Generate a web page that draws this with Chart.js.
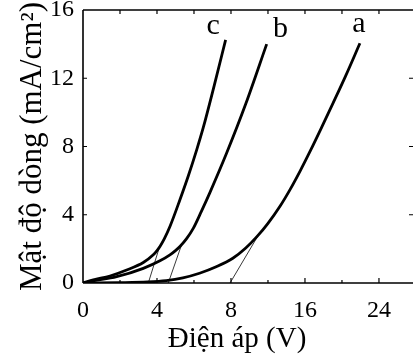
<!DOCTYPE html>
<html>
<head>
<meta charset="utf-8">
<script src="https://cdn.jsdelivr.net/npm/chart.js@4/dist/chart.umd.min.js"></script>
<style>
html,body{margin:0;padding:0;background:#fff;overflow:hidden;}
#wrap{width:413px;height:358px;position:relative;}
</style>
</head>
<body>
<div id="wrap"><canvas id="c" width="413" height="358"></canvas></div>
<script>
// ---- data ----
const aVolt = [0, 2, 3.5, 4.5, 5.4, 6.3, 7.2, 8.1, 8.8, 9.39, 10.0, 10.65, 11.2, 11.75, 12.3, 12.9, 13.53, 14.2, 14.97];
const aCurr = [0, 0.02, 0.06, 0.14, 0.3, 0.57, 0.95, 1.45, 2.05, 2.7, 3.5, 4.5, 5.49, 6.59, 7.77, 9.12, 10.57, 12.14, 14.05];
const bVolt = [0, 0.56, 1.82, 3.26, 4.16, 4.7, 5.0, 5.24, 5.6, 5.96, 6.4, 6.86, 7.76, 8.8, 9.93];
const bCurr = [0, 0.12, 0.37, 0.86, 1.3, 1.65, 1.9, 2.14, 2.6, 3.2, 4.2, 5.3, 7.6, 10.5, 14.0];
const cVolt = [0, 0.56, 1.46, 2.36, 3.26, 3.8, 4.0, 4.16, 4.4, 4.7, 5.24, 5.7, 6.15, 6.5, 7.1, 7.71];
const cCurr = [0, 0.18, 0.41, 0.76, 1.2, 1.65, 1.9, 2.14, 2.6, 3.31, 4.88, 6.3, 7.82, 9.1, 11.6, 14.25];
// thin tangent (threshold) lines
const tanAVolt = [7.95, 9.5];
const tanACurr = [0, 2.84];
const tanBVolt = [4.61, 5.33];
const tanBCurr = [0, 2.24];
const tanCVolt = [3.53, 4.12];
const tanCCurr = [0, 2.06];
// tick labels as printed on the figure
const xTickValues = [0, 4, 8, 12, 16];
const xTickLabels = ['0', '4', '8', '16', '24'];
const yTickValues = [0, 4, 8, 12, 16];
// curve names and where they sit (data units)
const curveNames = ['a', 'b', 'c'];
const nameVolt = [14.92, 10.68, 7.03];
const nameCurr = [14.7, 14.41, 14.59];

const xTitle = 'Điện áp (V)';
const yTitle = 'Mật độ dòng (mA/cm²)';

function pts(xs, ys){ return xs.map((v,i)=>({x:v, y:ys[i]})); }

const SERIF = "'Liberation Serif', 'DejaVu Serif', serif";

const framePlugin = {
  id: 'frame',
  afterDatasetsDraw(chart){
    const {ctx, chartArea, scales} = chart;
    const {left, right, top, bottom} = chartArea;
    const xs = scales.x, ys = scales.y;
    ctx.save();
    ctx.strokeStyle = '#000';
    ctx.lineWidth = 1.6;
    ctx.beginPath();
    ctx.moveTo(left, top); ctx.lineTo(right + 2, top);
    ctx.moveTo(left, top); ctx.lineTo(left, bottom);
    ctx.moveTo(left, bottom); ctx.lineTo(right + 2, bottom);
    ctx.stroke();
    ctx.lineWidth = 1.2;
    ctx.beginPath();
    for (let v = 2; v <= xs.max; v += 2){
      const px = xs.getPixelForValue(v);
      const len = xTickValues.includes(v) ? 5 : 3;
      ctx.moveTo(px, top); ctx.lineTo(px, top + 4);
      ctx.moveTo(px, bottom); ctx.lineTo(px, bottom - len);
    }
    yTickValues.forEach(v => {
      if (v === 0 || v === ys.max) return;
      const py = ys.getPixelForValue(v);
      ctx.moveTo(left, py); ctx.lineTo(left + 4, py);
      ctx.moveTo(right, py); ctx.lineTo(right - 4, py);
    });
    ctx.stroke();
    ctx.fillStyle = '#000';
    ctx.font = '30px ' + SERIF;
    ctx.textAlign = 'center';
    ctx.textBaseline = 'alphabetic';
    curveNames.forEach((n, i) => {
      ctx.fillText(n, xs.getPixelForValue(nameVolt[i]), ys.getPixelForValue(nameCurr[i]));
    });
    ctx.restore();
  }
};

const curveStyle = {borderColor:'#000', borderWidth:2.8, pointRadius:0, fill:false, cubicInterpolationMode:'monotone'};
const tanStyle = {borderColor:'#222', borderWidth:0.9, pointRadius:0, fill:false, tension:0};

new Chart(document.getElementById('c'), {
  type: 'line',
  data: {
    datasets: [
      Object.assign({label:'a', data: pts(aVolt, aCurr)}, curveStyle),
      Object.assign({label:'b', data: pts(bVolt, bCurr)}, curveStyle),
      Object.assign({label:'c', data: pts(cVolt, cCurr)}, curveStyle),
      Object.assign({label:'ta', data: pts(tanAVolt, tanACurr)}, tanStyle),
      Object.assign({label:'tb', data: pts(tanBVolt, tanBCurr)}, tanStyle),
      Object.assign({label:'tc', data: pts(tanCVolt, tanCCurr)}, tanStyle)
    ]
  },
  options: {
    responsive: false,
    animation: false,
    devicePixelRatio: 1,
    layout: {padding: {top: 10, right: 0, left: 0, bottom: 0}},
    plugins: {legend: {display: false}, tooltip: {enabled: false}},
    scales: {
      x: {
        type: 'linear', min: 0, max: 17.84,
        grid: {display: false, drawTicks: false},
        border: {display: false},
        afterBuildTicks: s => { s.ticks = xTickValues.map(v => ({value: v})); },
        afterFit: s => { s.height = 75; s.paddingLeft = 0; s.paddingRight = 0; },
        ticks: {
          color: '#000', font: {family: SERIF, size: 24}, padding: 13, maxRotation: 0,
          callback: v => { const i = xTickValues.indexOf(v); return i >= 0 ? xTickLabels[i] : ''; }
        },
        title: {display: true, text: xTitle + '\u00a0\u00a0\u00a0', color: '#000', font: {family: SERIF, size: 29}, padding: {top: 0, bottom: 1}}
      },
      y: {
        type: 'linear', min: 0, max: 16,
        grid: {display: false, drawTicks: false},
        border: {display: false},
        afterBuildTicks: s => { s.ticks = yTickValues.map(v => ({value: v})); },
        afterFit: s => { s.width = 83; s.paddingTop = 0; s.paddingBottom = 0; },
        ticks: {color: '#000', font: {family: SERIF, size: 24}, padding: 9},
        title: {display: true, text: yTitle, color: '#000', font: {family: SERIF, size: 31}, padding: {top: 14, bottom: 0}}
      }
    }
  },
  plugins: [framePlugin]
});
</script>
</body>
</html>
